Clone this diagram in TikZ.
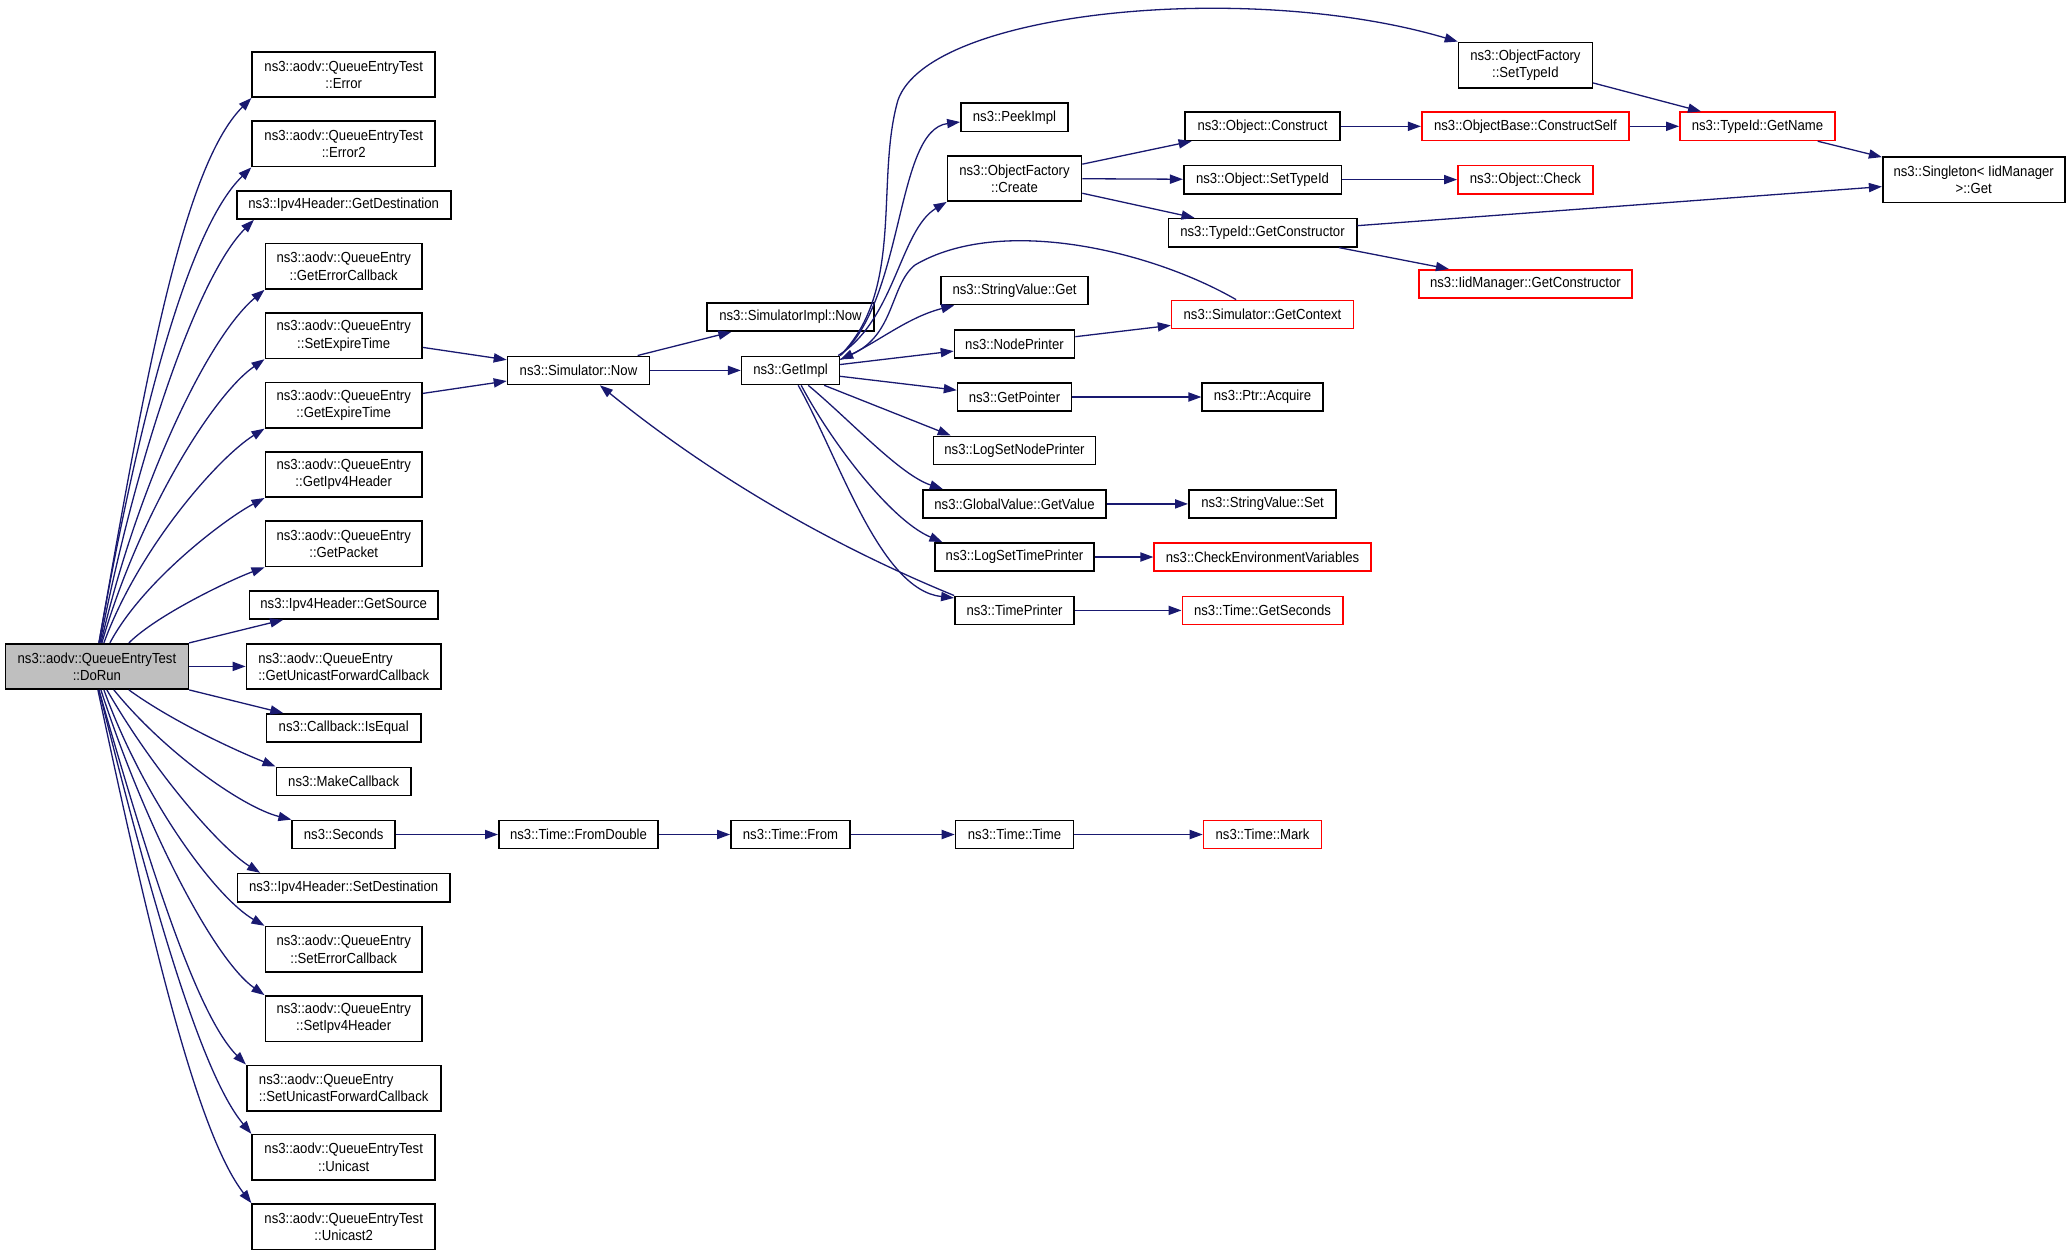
\documentclass[tikz,border=0pt]{standalone}
\usepackage{fontspec}
\setmainfont{Liberation Sans}[FakeStretch=0.9]
\usetikzlibrary{arrows.meta}
\definecolor{callblue}{RGB}{25,25,112}
\definecolor{rootgray}{RGB}{191,191,191}
\tikzset{
  fn/.style={draw=black, line width=0.8pt, inner sep=0pt, minimum height=14.1pt, align=center, font=\fontsize{7.3}{8.6}\selectfont},
  fntwo/.style={fn, minimum height=22.7pt},
  undoc/.style={draw=red},
  call/.style={draw=callblue, line width=0.65pt, -{Triangle[length=6.5pt,width=4.6pt]}},
}
\begin{document}
\begin{tikzpicture}[x=0.5pt,y=-0.5pt]
\useasboundingbox (0,0) rectangle (2069,1255);

% caller
\node[fntwo, minimum width=91.5pt, fill=rootgray] (dorun) at (96.9,666.4) {ns3::aodv::QueueEntryTest\\::DoRun};

% first level
\node[fntwo, minimum width=91.5pt] (error) at (343.7,74.5) {ns3::aodv::QueueEntryTest\\::Error};
\node[fntwo, minimum width=91.5pt] (errortwo) at (343.7,143.9) {ns3::aodv::QueueEntryTest\\::Error2};
\node[fn, minimum width=107pt] (getdest) at (343.7,204.9) {ns3::Ipv4Header::GetDestination};
\node[fntwo, minimum width=78.4pt] (geterrcb) at (343.7,266.3) {ns3::aodv::QueueEntry\\::GetErrorCallback};
\node[fntwo, minimum width=78.4pt] (setexp) at (343.7,335.7) {ns3::aodv::QueueEntry\\::SetExpireTime};
\node[fntwo, minimum width=78.4pt] (getexp) at (343.7,405.1) {ns3::aodv::QueueEntry\\::GetExpireTime};
\node[fntwo, minimum width=78.4pt] (getipv4) at (343.7,474.5) {ns3::aodv::QueueEntry\\::GetIpv4Header};
\node[fntwo, minimum width=78.4pt] (getpacket) at (343.7,543.9) {ns3::aodv::QueueEntry\\::GetPacket};
\node[fn, minimum width=94.2pt] (getsrc) at (343.7,604.9) {ns3::Ipv4Header::GetSource};
\node[fntwo, minimum width=97.3pt, align=left] (getucb) at (343.7,666.4) {ns3::aodv::QueueEntry\\::GetUnicastForwardCallback};
\node[fn, minimum width=77.3pt] (isequal) at (343.7,728) {ns3::Callback::IsEqual};
\node[fn, minimum width=67.4pt] (makecb) at (343.7,781.4) {ns3::MakeCallback};
\node[fn, minimum width=51.5pt] (seconds) at (343.7,834.5) {ns3::Seconds};
\node[fn, minimum width=106.3pt] (setdest) at (343.7,887.7) {ns3::Ipv4Header::SetDestination};
\node[fntwo, minimum width=78.4pt] (seterrcb) at (343.7,949.3) {ns3::aodv::QueueEntry\\::SetErrorCallback};
\node[fntwo, minimum width=78.4pt] (setipv4) at (343.7,1018.6) {ns3::aodv::QueueEntry\\::SetIpv4Header};
\node[fntwo, minimum width=97pt, align=left] (setucb) at (343.7,1088) {ns3::aodv::QueueEntry\\::SetUnicastForwardCallback};
\node[fntwo, minimum width=91.5pt] (unicast) at (343.7,1157.3) {ns3::aodv::QueueEntryTest\\::Unicast};
\node[fntwo, minimum width=91.5pt] (unicasttwo) at (343.7,1226.6) {ns3::aodv::QueueEntryTest\\::Unicast2};

% simulator and time
\node[fn, minimum width=71pt] (simnow) at (578.5,370.4) {ns3::Simulator::Now};
\node[fn, minimum width=79.7pt] (fromdouble) at (578.5,834.5) {ns3::Time::FromDouble};
\node[fn, minimum width=83.7pt] (simimpl) at (790.5,317) {ns3::SimulatorImpl::Now};
\node[fn, minimum width=48.9pt] (getimpl) at (790.5,370.4) {ns3::GetImpl};
\node[fn, minimum width=59.6pt] (timefrom) at (790.5,834.5) {ns3::Time::From};

\node[fn, minimum width=53.6pt] (peekimpl) at (1014.5,117.3) {ns3::PeekImpl};
\node[fntwo, minimum width=67pt] (ofcreate) at (1014.5,178.4) {ns3::ObjectFactory\\::Create};
\node[fn, minimum width=73.4pt] (svget) at (1014.5,290.4) {ns3::StringValue::Get};
\node[fn, minimum width=60pt] (nodeprinter) at (1014.5,343.9) {ns3::NodePrinter};
\node[fn, minimum width=56.9pt] (getpointer) at (1014.5,397) {ns3::GetPointer};
\node[fn, minimum width=81pt] (logsetnode) at (1014.5,450.4) {ns3::LogSetNodePrinter};
\node[fn, minimum width=91.5pt] (gvgetvalue) at (1014.5,503.9) {ns3::GlobalValue::GetValue};
\node[fn, minimum width=79.7pt] (logsettime) at (1014.5,557) {ns3::LogSetTimePrinter};
\node[fn, minimum width=59.6pt] (timeprinter) at (1014.5,610.4) {ns3::TimePrinter};
\node[fn, minimum width=59pt] (timetime) at (1014.5,834.5) {ns3::Time::Time};

\node[fn, minimum width=77.5pt] (objconstruct) at (1262.5,126.3) {ns3::Object::Construct};
\node[fn, minimum width=78.8pt] (objsettypeid) at (1262.5,179.6) {ns3::Object::SetTypeId};
\node[fn, minimum width=94.2pt] (tidgetctor) at (1262.5,232.7) {ns3::TypeId::GetConstructor};
\node[fn, undoc, minimum width=90.9pt] (getcontext) at (1262.5,314.5) {ns3::Simulator::GetContext};
\node[fn, minimum width=60.3pt] (ptracquire) at (1262.5,397) {ns3::Ptr::Acquire};
\node[fn, minimum width=73.7pt] (svset) at (1262.5,503.9) {ns3::StringValue::Set};
\node[fn, undoc, minimum width=108.3pt] (checkenv) at (1262.5,557) {ns3::CheckEnvironmentVariables};
\node[fn, undoc, minimum width=80.2pt] (getseconds) at (1262.5,610.4) {ns3::Time::GetSeconds};
\node[fn, undoc, minimum width=59pt] (timemark) at (1262.5,834.5) {ns3::Time::Mark};

\node[fntwo, minimum width=66.9pt] (ofsettypeid) at (1525.4,65.1) {ns3::ObjectFactory\\::SetTypeId};
\node[fn, undoc, minimum width=103.7pt] (constructself) at (1525.4,126.3) {ns3::ObjectBase::ConstructSelf};
\node[fn, undoc, minimum width=67.5pt] (objcheck) at (1525.4,179.6) {ns3::Object::Check};
\node[fn, undoc, minimum width=106.4pt] (iidgetctor) at (1525.4,283.9) {ns3::IidManager::GetConstructor};
\node[fn, undoc, minimum width=77.6pt] (getname) at (1757.5,126.3) {ns3::TypeId::GetName};
\node[fntwo, minimum width=91pt] (singleton) at (1973.7,179.8) {ns3::Singleton< IidManager\\>::Get};

% calls out of DoRun
\foreach \t/\dx/\a/\la/\b/\lb in {error/1/-80/250/135/100, errortwo/1/-80/220/136/90, geterrcb/2/-77/160/140/75, setexp/2.5/-74/130/145/65, getexp/3.5/-70/100/148/55, getipv4/6.5/-62/70/152/45, getpacket/16/-45/40/160/35}
  \draw[call] ([xshift=\dx pt]dorun.north) .. controls +(\a:\la) and +(\b:\lb) .. (\t.south west);
\draw[call] ([xshift=1.5pt]dorun.north) .. controls +(-79:190) and +(135:80) .. ([xshift=9pt]getdest.south west);
\foreach \t/\dx/\a/\la/\b/\lb in {makecb/16/36/50/-158/50, seconds/8.5/51/80/-166/50, seterrcb/3.5/70/120/-150/55, setipv4/2/72/150/-145/60, setucb/1/74/180/-135/70, unicast/1/76/210/-130/80, unicasttwo/0.5/78/240/-128/90}
  \draw[call] ([xshift=\dx pt]dorun.south) .. controls +(\a:\la) and +(\b:\lb) .. (\t.north west);
\draw[call] ([xshift=5pt]dorun.south) .. controls +(60:100) and +(-148:45) .. ([xshift=11.75pt]setdest.north west);
\draw[call] (dorun.north east) -- (getsrc);
\draw[call] (dorun.south east) -- (isequal);

% straight calls
\foreach \a/\b in {dorun/getucb, setexp/simnow, getexp/simnow, simnow/simimpl, simnow/getimpl, getimpl/nodeprinter, getimpl/getpointer, seconds/fromdouble, fromdouble/timefrom, timefrom/timetime, timetime/timemark, ofcreate/objconstruct, ofcreate/objsettypeid, ofcreate/tidgetctor, objconstruct/constructself, objsettypeid/objcheck, tidgetctor/singleton, tidgetctor/iidgetctor, ofsettypeid/getname, constructself/getname, getname/singleton, nodeprinter/getcontext, getpointer/ptracquire, gvgetvalue/svset, logsettime/checkenv, timeprinter/getseconds}
  \draw[call] (\a) -- (\b);

% curved calls around GetImpl
\draw[call] (getimpl.north east) .. controls (905,300) and (895,130) .. ([yshift=-2.35pt]peekimpl.west);
\draw[call] ([xshift=-1pt]getimpl.north east) .. controls (895,320) and (900,230) .. (ofcreate.south west);
\draw[call] (getimpl.north east) .. controls (905,290) and (875,180) .. (898,100) .. controls (930,10) and (1250,-20) .. (ofsettypeid.north west);
\draw[call] ([yshift=-2pt]getimpl.north east) .. controls (875,345) and (905,318) .. ([xshift=7pt]svget.south west);
\draw[call] ([xshift=-13.2pt]getcontext.north) .. controls (1150,250) and (1000,215) .. (915,265) .. controls (890,285) and (895,335) .. ([yshift=-2pt]getimpl.north east);
\draw[call] ([xshift=-8pt]getimpl.south east) -- ([xshift=9pt]logsetnode.north west);
\draw[call] ([xshift=-16pt]getimpl.south east) .. controls (850,420) and (900,475) .. ([xshift=10.3pt]gvgetvalue.north west);
\draw[call] ([xshift=-19.5pt]getimpl.south east) .. controls (830,440) and (890,520) .. ([xshift=4.2pt]logsettime.north west);
\draw[call] ([xshift=-21pt]getimpl.south east) .. controls (840,460) and (880,590) .. ([yshift=-1.2pt]timeprinter.north west);
\draw[call] (timeprinter.north west) .. controls (826,543) and (708,473) .. ([xshift=10.7pt]simnow.south);

\end{tikzpicture}
\end{document}
